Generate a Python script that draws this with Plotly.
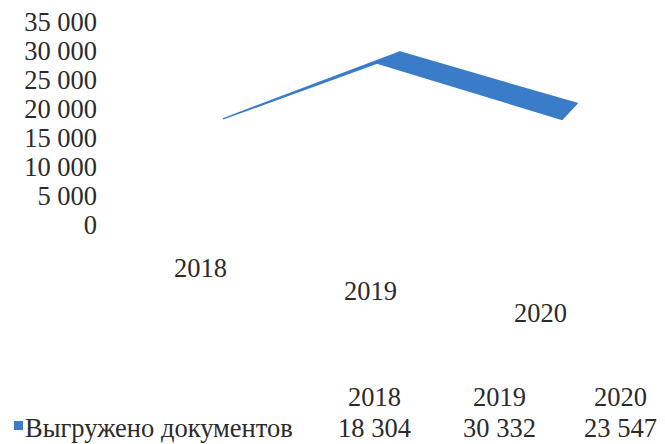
import plotly.graph_objects as go

categories = ["2018", "2019", "2020"]
values = [18304, 30332, 23547]
series_name = "Выгружено документов"
tick_vals = [0, 5000, 10000, 15000, 20000, 25000, 30000, 35000]
tick_text = ["0", "5 000", "10 000", "15 000", "20 000", "25 000", "30 000", "35 000"]

# the page body has an 8px margin; lay out in reference pixels and shift
OFF = 8
W, H = 665 - OFF, 444 - OFF
L = 100 - OFF - 2

# y mapping (reference pixels): value 0 at 225, 35000 at 22
Y0_PX, Y35_PX = 225, 22
UNITS_PER_PX = 35000 / (Y0_PX - Y35_PX)
y_top = (Y0_PX - OFF) * UNITS_PER_PX
y_bot = (Y0_PX - OFF - H) * UNITS_PER_PX


def yv(p):
    """reference pixel row -> y-axis value"""
    return (Y0_PX - p) * UNITS_PER_PX


def xv(p):
    """reference pixel column -> x-axis value (axis in figure pixels)"""
    return p - OFF


# pseudo-3D projection parameters (reference pixels)
CAT_X0, CAT_DX = 223, 177
FLOOR_DROP_PX = [0, 3, 15]
RIBBON_DEPTH_PX = [(0, 0), (-23, 11), (-15, 16)]

COLOR = "#3a7cc8"
FONT = "Liberation Serif"
FS = 26.5
TXT = "#2b2b2b"

back = []
front = []
for i, v in enumerate(values):
    bx = CAT_X0 + i * CAT_DX
    by = v - FLOOR_DROP_PX[i] * UNITS_PER_PX
    dx, dy = RIBBON_DEPTH_PX[i]
    back.append((xv(bx), by))
    front.append((xv(bx + dx), by - dy * UNITS_PER_PX))

fig = go.Figure()
for i in range(len(values) - 1):
    pts = [back[i], back[i + 1], front[i + 1], front[i], back[i]]
    fig.add_trace(go.Scatter(
        x=[p[0] for p in pts], y=[p[1] for p in pts],
        mode="lines", fill="toself", fillcolor=COLOR,
        line=dict(color=COLOR, width=1.5), hoverinfo="skip", showlegend=False))

font = dict(family=FONT, size=FS, color=TXT)
ann = []
# category labels along the tilted floor
for i, c in enumerate(categories):
    ann.append(dict(x=xv(200 + 170 * i), y=yv(268 + 22.5 * i), text=c, showarrow=False,
                    xref="x", yref="y", font=font))
# data table
col_x = [374, 499, 620]
for i, c in enumerate(categories):
    ann.append(dict(x=xv(col_x[i]), y=yv(397), text=c, showarrow=False,
                    xref="x", yref="y", font=font))
    ann.append(dict(x=xv(col_x[i]), y=yv(428), text=f"{values[i]:,}".replace(",", " "),
                    showarrow=False, xref="x", yref="y", font=font))


def xp(p):
    """reference pixel column -> paper x"""
    return (p - OFF - L) / (W - L)


ann.append(dict(x=xp(23), y=yv(428), text=series_name, showarrow=False,
                xref="paper", yref="y", xanchor="left", font=font))

shapes = [dict(type="rect", xref="paper", yref="y", x0=xp(14), x1=xp(23),
               y0=yv(430), y1=yv(421), fillcolor=COLOR, line=dict(width=0))]

fig.update_layout(
    width=W, height=H, margin=dict(l=L, r=0, t=0, b=0),
    paper_bgcolor="white", plot_bgcolor="white",
    xaxis=dict(range=[L, W], visible=False, fixedrange=True),
    yaxis=dict(range=[y_bot, y_top], tickvals=tick_vals, ticktext=tick_text,
               showgrid=False, zeroline=False, showline=False, ticks="",
               ticklabeloverflow="allow",
               tickfont=font, fixedrange=True),
    annotations=ann, shapes=shapes, showlegend=False,
)

fig.write_html("out.html", config={"displayModeBar": False})
